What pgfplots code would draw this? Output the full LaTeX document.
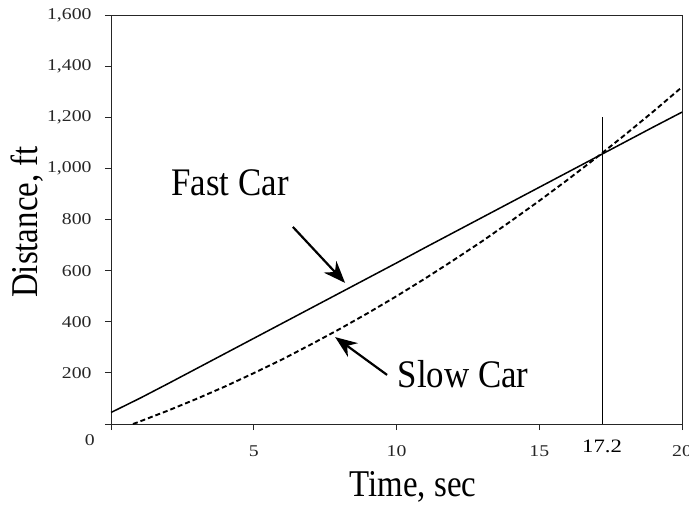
\documentclass[border=0pt]{standalone}
\usepackage{fontspec}
\setmainfont{Liberation Serif}
\usepackage{graphicx}
\usepackage{pgfplots}
\pgfplotsset{compat=1.18}
\usetikzlibrary{arrows.meta}
\newcommand\tl[1]{\scalebox{1.2}[1]{#1}}
\begin{document}
\begin{tikzpicture}
\begin{axis}[
 scale only axis, width=571bp, height=409bp,
 xmin=0, xmax=20, ymin=0, ymax=1600,
 axis line style={black!85, line width=0.8bp},
 xtick={0,5,10,15,20}, xticklabels={,\tl{5},\tl{10},\tl{15},\tl{20}},
 ytick={0,200,400,600,800,1000,1200,1400,1600},
 yticklabels={,\tl{200},\tl{400},\tl{600},\tl{800},\tl{1,000},\tl{1,200},\tl{1,400},\tl{1,600}},
 xtick pos=bottom, ytick pos=left, tick align=outside,
 major tick length=6bp,
 tick style={black!85, line width=0.8bp},
 ticklabel style={font=\fontsize{16.5}{16.5}\selectfont, text=black!85},
 xticklabel style={yshift=-12bp},
 yticklabel style={xshift=-10bp},
 clip=false,
]
% Fast car
\addplot[black, line width=1.5bp] coordinates {
(0,45) (1,100) (2,158) (3,217) (4,276) (5,335) (6,394) (7,453) (8,512) (9,571)
(10,630) (11,690) (12,749) (13,808) (14,867) (15,926) (16,985) (17,1044)
(18,1103) (19,1162) (20,1220)};
% Slow car
\addplot[black, line width=1.9bp, dash pattern=on 5bp off 3bp] coordinates {
(0.77,0) (1,9.5) (2,52.6) (3,98.5) (4,147) (5,199) (6,253) (7,311) (8,371)
(9,434) (10,500) (11,569) (12,641) (13,715) (14,793) (15,873) (16,956)
(17,1042) (18,1131) (19,1223) (20,1318)};
% vertical line at 17.2
\addplot[black, line width=0.8bp] coordinates {(17.2,0) (17.2,1200)};
% arrows
\draw[-{Stealth[length=22bp,width=17bp]}, line width=2.2bp] (axis cs:6.37,771) -- (axis cs:8.20,552);
\draw[-{Stealth[length=22bp,width=17bp]}, line width=2.2bp] (axis cs:9.67,192) -- (axis cs:7.85,340);
% labels
\node[font=\fontsize{35}{35}\selectfont] at (axis cs:4.17,943) {\scalebox{1}[1.12]{Fast Car}};
\node[font=\fontsize{35}{35}\selectfont] at (axis cs:12.33,196) {\scalebox{1}[1.12]{Slow Car}};
\node[font=\fontsize{33}{33}\selectfont] at (axis cs:10.58,-246) {\scalebox{1}[1.15]{Time, sec}};
\node[font=\fontsize{33}{33}\selectfont, rotate=90] at (axis cs:-2.95,790) {\scalebox{1}[1.15]{Distance, ft}};
\node[font=\fontsize{16.5}{16.5}\selectfont, text=black!85] at (axis cs:-0.74,-63) {\tl{0}};
\node[font=\fontsize{19}{19}\selectfont] at (axis cs:17.2,-86) {\tl{17.2}};
\end{axis}
\pgfresetboundingbox
\useasboundingbox (-111bp,-82bp) rectangle (578bp,424bp);
\end{tikzpicture}
\end{document}
